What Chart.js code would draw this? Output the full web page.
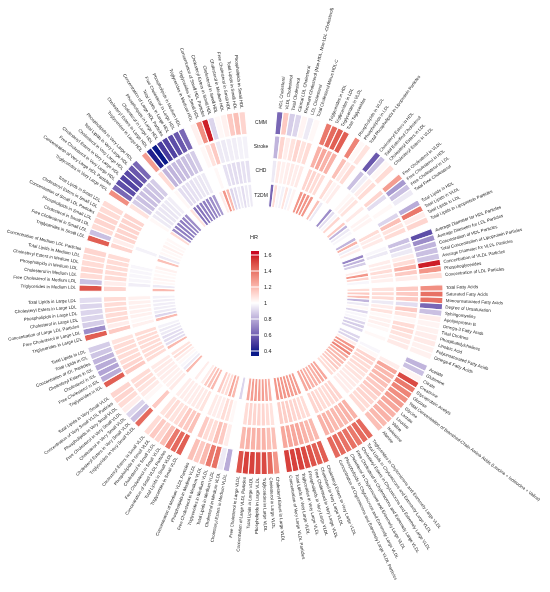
<!DOCTYPE html>
<html>
<head>
<meta charset="utf-8">
<script src="https://cdn.jsdelivr.net/npm/chart.js@4.4.1/dist/chart.umd.min.js"></script>
<style>
  html, body { margin: 0; padding: 0; background: #fff; }
  canvas { display: block; }
</style>
</head>
<body>
<canvas id="circos" width="550" height="592"></canvas>
<script>
// metabolite names in clockwise order, split into groups by groupSizes
const metabolites = [
    'HDL Cholesterol', 'VLDL Cholesterol', 'Total Cholesterol', 'Clinical LDL Cholesterol',
    'Remnant Cholesterol (Non-HDL, Non-LDL -Cholesterol)', 'LDL Cholesterol', 'Total Cholesterol Minus HDL-C',
    'Triglycerides in HDL', 'Triglycerides in LDL', 'Triglycerides in VLDL', 'Total Triglycerides',
    'Phospholipids in VLDL', 'Phospholipids in LDL', 'Total Phospholipids in Lipoprotein Particles',
    'Cholesteryl Esters in HDL', 'Total Esterified Cholesterol', 'Cholesteryl Esters in LDL', 'Cholesteryl Esters in VLDL',
    'Free Cholesterol in VLDL', 'Free Cholesterol in HDL', 'Free Cholesterol in LDL', 'Total Free Cholesterol',
    'Total Lipids in HDL', 'Total Lipids in VLDL', 'Total Lipids in LDL', 'Total Lipids in Lipoprotein Particles',
    'Average Diameter for HDL Particles', 'Average Diameter for LDL Particles', 'Concentration of HDL Particles',
    'Total Concentration of Lipoprotein Particles', 'Average Diameter for VLDL Particles', 'Concentration of VLDL Particles',
    'Phosphoglycerides', 'Concentration of LDL Particles',
    'Total Fatty Acids', 'Saturated Fatty Acids', 'Monounsaturated Fatty Acids', 'Degree of Unsaturation',
    'Sphingomyelins', 'Apolipoprotein B', 'Omega-3 Fatty Acids', 'Total Cholines', 'Phosphatidylcholines',
    'Linoleic Acid', 'Polyunsaturated Fatty Acids', 'Omega-6 Fatty Acids',
    'Acetate', 'Glutamine', 'Citrate', 'Creatinine', 'Glycoprotein Acetyls', 'Glucose',
    'Total Concentration of Branched-Chain Amino Acids (Leucine + Isoleucine + Valine)',
    'Glycine', 'Lactate', 'Leucine', 'Valine', 'Isoleucine', 'Alanine',
    'Triglycerides in Chylomicrons and Extremely Large VLDL', 'Total Lipids in Chylomicrons and Extremely Large VLDL',
    'Cholesteryl Esters in Chylomicrons and Extremely Large VLDL', 'Free Cholesterol in Chylomicrons and Extremely Large VLDL',
    'Cholesterol in Chylomicrons and Extremely Large VLDL', 'Phospholipids in Chylomicrons and Extremely Large VLDL',
    'Concentration of Chylomicrons and Extremely Large VLDL Particles',
    'Cholesteryl Esters in Very Large VLDL', 'Cholesterol in Very Large VLDL', 'Free Cholesterol in Very Large VLDL',
    'Phospholipids in Very Large VLDL', 'Triglycerides in Very Large VLDL', 'Total Lipids in Very Large VLDL',
    'Concentration of Very Large VLDL Particles',
    'Cholesteryl Esters in Large VLDL', 'Cholesterol in Large VLDL', 'Triglycerides in Large VLDL',
    'Phospholipids in Large VLDL', 'Total Lipids in Large VLDL', 'Concentration of Large VLDL Particles',
    'Free Cholesterol in Large VLDL',
    'Cholesteryl Esters in Medium VLDL', 'Cholesterol in Medium VLDL', 'Total Lipids in Medium VLDL',
    'Triglycerides in Medium VLDL', 'Free Cholesterol in Medium VLDL', 'Phospholipids in Medium VLDL',
    'Concentration of Medium VLDL Particles',
    'Triglycerides in Small VLDL', 'Total Lipids in Small VLDL', 'Concentration of Small VLDL Particles',
    'Free Cholesterol in Small VLDL', 'Cholesterol in Small VLDL', 'Phospholipids in Small VLDL',
    'Cholesteryl Esters in Small VLDL',
    'Triglycerides in Very Small VLDL', 'Cholesteryl Esters in Very Small VLDL', 'Cholesterol in Very Small VLDL',
    'Free Cholesterol in Very Small VLDL', 'Phospholipids in Very Small VLDL', 'Concentration of Very Small VLDL Particles',
    'Total Lipids in Very Small VLDL',
    'Triglycerides in IDL', 'Free Cholesterol in IDL', 'Cholesterol in IDL', 'Cholesteryl Esters in IDL',
    'Concentration of IDL Particles', 'Total Lipids in IDL', 'Total Lipids in LDL',
    'Triglycerides in Large LDL', 'Free Cholesterol in Large LDL', 'Concentration of Large LDL Particles',
    'Cholesterol in Large LDL', 'Phospholipids in Large LDL', 'Cholesteryl Esters in Large LDL', 'Total Lipids in Large LDL',
    'Triglycerides in Medium LDL', 'Free Cholesterol in Medium LDL', 'Cholesterol in Medium LDL',
    'Phospholipids in Medium LDL', 'Cholesteryl Esters in Medium LDL', 'Total Lipids in Medium LDL',
    'Concentration of Medium LDL Particles',
    'Triglycerides in Small LDL', 'Free Cholesterol in Small LDL', 'Cholesterol in Small LDL',
    'Phospholipids in Small LDL', 'Concentration of Small LDL Particles', 'Cholesteryl Esters in Small LDL',
    'Total Lipids in Small LDL',
    'Triglycerides in Very Large HDL', 'Concentration of Very Large HDL Particles', 'Free Cholesterol in Very Large HDL',
    'Cholesteryl Esters in Very Large HDL', 'Cholesterol in Very Large HDL', 'Total Lipids in Very Large HDL',
    'Phospholipids in Very Large HDL',
    'Triglycerides in Large HDL', 'Cholesteryl Esters in Large HDL', 'Cholesterol in Large HDL',
    'Phospholipids in Large HDL', 'Concentration of Large HDL Particles', 'Total Lipids in Large HDL',
    'Free Cholesterol in Large HDL', 'Phospholipids in Medium HDL',
    'Triglycerides in Medium HDL', 'Triglycerides in Small HDL', 'Concentration of Small HDL Particles',
    'Cholesteryl Esters in Small HDL', 'Cholesterol in Small HDL', 'Cholesterol in Medium HDL',
    'Free Cholesterol in Small HDL', 'Total Lipids in Small HDL', 'Phospholipids in Small HDL',
];

const groupSizes = [7, 4, 3, 4, 4, 4, 8, 12, 13, 7, 7, 7, 7, 7, 7, 7, 7, 7, 7, 7, 8, 9];

const outcomes = ['CMM', 'Stroke', 'CHD', 'T2DM'];

const hrCMM = [
    0.62, 1.15, 0.88, 0.90, 1.03, 0.95, 1.02,
    1.38, 1.42, 1.45, 1.45,
    1.35, 1.02, 1.08,
    0.58, 0.85, 1.02, 1.10,
    1.28, 0.75, 0.85, 0.95,
    0.80, 1.38, 1.05, 1.12,
    0.55, 0.72, 0.82, 0.85, 0.86, 1.58, 1.30, 1.10,
    1.32, 1.40, 1.40, 0.62, 0.85, 1.05, 1.03, 1.04, 1.05, 1.06, 1.04, 1.04,
    0.82, 0.85, 1.03, 1.50, 1.38, 1.35, 1.32, 1.28, 1.25, 1.22, 1.22, 1.20, 1.18,
    1.42, 1.42, 1.38, 1.40, 1.40, 1.42, 1.42,
    1.45, 1.45, 1.48, 1.50, 1.52, 1.52, 1.52,
    1.30, 1.42, 1.50, 1.50, 1.52, 1.52, 1.48,
    0.80, 0.95, 1.40, 1.38, 1.20, 1.15, 1.18,
    1.45, 1.42, 1.38, 1.18, 1.12, 1.15, 1.10,
    1.42, 0.85, 0.90, 1.05, 1.10, 1.12, 1.12,
    1.45, 0.80, 0.78, 0.80, 0.82, 0.86, 0.88,
    1.45, 0.72, 0.88, 0.90, 0.90, 0.90, 0.92,
    1.48, 0.85, 1.10, 1.12, 1.10, 1.10, 1.12,
    1.45, 0.85, 1.10, 1.12, 1.12, 1.10, 1.10,
    1.32, 0.62, 0.55, 0.52, 0.54, 0.58, 0.62,
    1.28, 0.42, 0.40, 0.50, 0.52, 0.55, 0.58, 0.62,
    1.04, 1.32, 1.58, 0.90, 1.02, 1.04, 1.15, 1.18, 1.12,
];

const hrStroke = [
    0.82, 1.12, 1.05, 1.08, 1.12, 1.08, 1.10,
    1.22, 1.25, 1.22, 1.22,
    1.18, 1.06, 1.10,
    0.85, 0.96, 1.05, 1.10,
    1.12, 0.92, 1.00, 1.02,
    0.90, 1.18, 1.08, 1.10,
    0.85, 0.90, 0.95, 1.05, 1.10, 1.22, 1.15, 1.05,
    1.15, 1.15, 1.15, 0.92, 1.15, 1.08, 1.02, 1.10, 1.10, 1.08, 1.06, 1.06,
    1.00, 1.00, 1.05, 1.25, 1.20, 1.20, 1.18, 1.15, 1.15, 1.12, 1.12, 1.10, 1.10,
    1.22, 1.22, 1.20, 1.20, 1.20, 1.22, 1.22,
    1.20, 1.20, 1.22, 1.25, 1.25, 1.25, 1.25,
    1.18, 1.18, 1.22, 1.22, 1.22, 1.22, 1.20,
    1.00, 1.05, 1.15, 1.18, 1.10, 1.10, 1.15,
    1.18, 1.15, 1.15, 1.10, 1.08, 1.10, 1.08,
    1.15, 1.00, 1.02, 1.06, 1.08, 1.10, 1.10,
    1.15, 1.12, 1.10, 1.10, 1.10, 1.10, 1.08,
    1.15, 1.05, 1.10, 1.10, 1.10, 1.10, 1.10,
    1.12, 1.05, 1.10, 1.10, 1.10, 1.10, 1.10,
    1.12, 1.05, 1.12, 1.12, 1.12, 1.12, 1.12,
    1.08, 0.88, 0.85, 0.85, 0.85, 0.86, 0.88,
    1.10, 0.82, 0.82, 0.84, 0.84, 0.85, 0.86, 0.88,
    1.02, 1.08, 1.15, 0.95, 0.95, 0.96, 0.96, 0.97, 0.97,
];

const hrCHD = [
    0.95, 1.06, 1.04, 1.05, 1.06, 1.05, 1.06,
    1.12, 1.12, 1.10, 1.10,
    1.10, 1.03, 1.05,
    1.00, 1.02, 1.04, 1.08,
    1.06, 1.00, 1.03, 1.03,
    1.00, 1.10, 1.05, 1.06,
    0.98, 0.95, 1.00, 1.05, 1.05, 1.10, 1.06, 1.04,
    1.08, 1.10, 1.10, 0.95, 1.05, 1.08, 1.02, 1.04, 1.04, 1.02, 1.00, 1.02,
    1.00, 0.98, 1.02, 1.12, 1.12, 1.10, 1.10, 1.08, 1.08, 1.06, 1.06, 1.05, 1.05,
    1.12, 1.12, 1.10, 1.10, 1.10, 1.12, 1.12,
    1.10, 1.10, 1.12, 1.12, 1.14, 1.14, 1.14,
    1.08, 1.10, 1.12, 1.12, 1.12, 1.12, 1.10,
    1.00, 1.02, 1.08, 1.10, 1.05, 1.05, 1.06,
    1.08, 1.06, 1.06, 1.05, 1.05, 1.05, 1.05,
    1.06, 1.04, 1.04, 1.05, 1.05, 1.06, 1.06,
    1.10, 1.10, 1.10, 1.10, 1.10, 1.10, 1.10,
    1.04, 1.02, 1.04, 1.04, 1.04, 1.04, 1.04,
    1.00, 0.96, 0.98, 0.98, 0.98, 0.98, 1.00,
    1.00, 0.97, 1.00, 1.00, 1.00, 1.00, 1.00,
    1.02, 0.95, 0.94, 0.94, 0.94, 0.95, 0.96,
    1.02, 0.92, 0.92, 0.93, 0.93, 0.94, 0.94, 0.95,
    1.00, 1.02, 1.00, 0.93, 0.92, 0.92, 0.92, 0.93, 0.93,
];

const hrT2DM = [
    0.62, 1.10, 0.98, 0.97, 1.08, 0.97, 1.03,
    1.30, 1.32, 1.30, 1.30,
    1.18, 0.95, 1.00,
    0.72, 0.92, 0.98, 1.12,
    1.15, 0.82, 0.95, 0.98,
    0.82, 1.22, 0.96, 1.05,
    0.70, 0.82, 0.88, 1.00, 1.05, 1.30, 1.12, 0.98,
    1.10, 1.15, 1.18, 0.82, 0.95, 1.02, 0.90, 0.98, 0.98, 0.90, 0.88, 0.90,
    0.90, 0.90, 1.05, 1.30, 1.30, 1.35, 1.25, 1.20, 1.20, 1.15, 1.15, 1.10, 1.10,
    1.25, 1.25, 1.22, 1.22, 1.22, 1.25, 1.25,
    1.28, 1.28, 1.28, 1.30, 1.30, 1.30, 1.30,
    1.22, 1.25, 1.28, 1.28, 1.28, 1.28, 1.25,
    0.90, 1.00, 1.20, 1.25, 1.10, 1.10, 1.15,
    1.20, 1.18, 1.15, 1.05, 1.00, 1.05, 1.00,
    1.20, 0.95, 0.98, 1.02, 1.05, 1.10, 1.08,
    1.20, 0.92, 0.92, 0.92, 0.95, 0.95, 0.97,
    1.20, 0.90, 0.95, 0.96, 0.96, 0.96, 0.97,
    1.20, 0.95, 1.02, 1.03, 1.02, 1.02, 1.04,
    1.18, 0.95, 1.02, 1.02, 1.04, 1.02, 1.02,
    1.10, 0.72, 0.68, 0.68, 0.68, 0.70, 0.72,
    1.08, 0.65, 0.65, 0.68, 0.68, 0.70, 0.72, 0.75,
    1.05, 1.30, 1.20, 0.90, 0.92, 0.95, 0.92, 0.95, 0.95,
];

const hrTicks = [1.6, 1.4, 1.2, 1, 0.8, 0.6, 0.4];

// colour ramp navy -> white -> red, interpolated in Lab like colorRamp2
const toLin = (c) => { c /= 255; return c <= 0.04045 ? c / 12.92 : Math.pow((c + 0.055) / 1.055, 2.4); };
const fromLin = (c) => {
    const v = c <= 0.0031308 ? 12.92 * c : 1.055 * Math.pow(c, 1 / 2.4) - 0.055;
    return Math.round(Math.max(0, Math.min(1, v)) * 255);
};
const rgbToLab = ([r, g, b]) => {
    r = toLin(r); g = toLin(g); b = toLin(b);
    const f = (t) => (t > 0.008856 ? Math.cbrt(t) : 7.787 * t + 16 / 116);
    const fx = f((0.4124 * r + 0.3576 * g + 0.1805 * b) / 0.95047);
    const fy = f(0.2126 * r + 0.7152 * g + 0.0722 * b);
    const fz = f((0.0193 * r + 0.1192 * g + 0.9505 * b) / 1.08883);
    return [116 * fy - 16, 500 * (fx - fy), 200 * (fy - fz)];
};
const labToRgb = ([L, a, b]) => {
    const fy = (L + 16) / 116, fx = fy + a / 500, fz = fy - b / 200;
    const inv = (t) => (t * t * t > 0.008856 ? t * t * t : (t - 16 / 116) / 7.787);
    const X = inv(fx) * 0.95047, Y = inv(fy), Z = inv(fz) * 1.08883;
    const r = 3.2406 * X - 1.5372 * Y - 0.4986 * Z;
    const g = -0.9689 * X + 1.8758 * Y + 0.0415 * Z;
    const bl = 0.0557 * X - 0.2040 * Y + 1.0570 * Z;
    return [fromLin(r), fromLin(g), fromLin(bl)];
};
const labLow = rgbToLab([10, 26, 138]);
const labMid = rgbToLab([255, 255, 255]);
const labHigh = rgbToLab([202, 8, 34]);

const hrColor = (v) => {
    v = Math.max(0.4, Math.min(1.6, v));
    const [from, to, t] = v < 1 ? [labMid, labLow, (1 - v) / 0.6] : [labMid, labHigh, (v - 1) / 0.6];
    const lab = from.map((c, i) => c + (to[i] - c) * t);
    const [r, g, b] = labToRgb(lab);
    return `rgb(${r}, ${g}, ${b})`;
};

// build the segment list with an empty slot between groups
const slotLabels = [];
const slotIndex = [];
let k = 0;
groupSizes.forEach((size, gi) => {
    if (gi > 0) {
        slotLabels.push('');
        slotIndex.push(-1);
    }
    for (let j = 0; j < size; j++) {
        slotLabels.push(metabolites[k]);
        slotIndex.push(k);
        k++;
    }
});
const slotWidths = slotIndex.map(() => 1);

const ringDataset = (values) => ({
    data: slotWidths,
    backgroundColor: slotIndex.map((i) => (i < 0 ? 'rgba(0,0,0,0)' : hrColor(values[i]))),
    borderColor: '#ffffff',
    borderWidth: slotIndex.map((i) => (i < 0 ? 0 : 1.1)),
    weight: 23,
});
const spacer = () => ({
    data: slotWidths,
    backgroundColor: 'rgba(0,0,0,0)',
    borderWidth: 0,
    weight: 1.4,
});

const labelFont = '4.4px "Liberation Sans", Arial, sans-serif';

const circosText = {
    id: 'circosText',
    afterDatasetsDraw(chart) {
        const ctx = chart.ctx;
        const arcs = chart.getDatasetMeta(0).data;
        ctx.save();
        ctx.font = labelFont;
        ctx.fillStyle = '#222';
        ctx.textBaseline = 'middle';
        arcs.forEach((arc, i) => {
            const text = chart.data.labels[i];
            if (!text) return;
            const { x, y, startAngle, endAngle, outerRadius } = arc.getProps(['x', 'y', 'startAngle', 'endAngle', 'outerRadius'], true);
            const a = (startAngle + endAngle) / 2;
            let na = a % (2 * Math.PI);
            if (na < 0) na += 2 * Math.PI;
            const flip = na > Math.PI / 2 && na < 1.5 * Math.PI;
            ctx.save();
            ctx.translate(x, y);
            ctx.rotate(flip ? a + Math.PI : a);
            ctx.textAlign = flip ? 'right' : 'left';
            ctx.fillText(text, flip ? -(outerRadius + 3) : outerRadius + 3, 0);
            ctx.restore();
        });

        // outcome names in the opening at the top
        ctx.font = '5px "Liberation Sans", Arial, sans-serif';
        ctx.textAlign = 'center';
        outcomes.forEach((name, r) => {
            const arc = chart.getDatasetMeta(r * 2).data[0];
            const { x, y, innerRadius, outerRadius } = arc.getProps(['x', 'y', 'innerRadius', 'outerRadius'], true);
            ctx.fillText(name, x, y - (innerRadius + outerRadius) / 2);
        });

        // HR colour key in the centre
        const keyX = 251, keyW = 8, keyMid = 303, perUnit = 80;
        const top = 251, bottom = 356;
        for (let py = top; py < bottom; py++) {
            ctx.fillStyle = hrColor(1 + (keyMid - (py + 0.5)) / perUnit);
            ctx.fillRect(keyX, py, keyW, 1);
        }
        ctx.fillStyle = '#ffffff';
        hrTicks.forEach((t) => {
            if (t === 1) return;
            const py = keyMid - (t - 1) * perUnit;
            ctx.fillRect(keyX, py - 0.5, keyW, 1);
        });
        ctx.fillStyle = '#222';
        ctx.font = '5.5px "Liberation Sans", Arial, sans-serif';
        ctx.textAlign = 'left';
        hrTicks.forEach((t) => {
            ctx.fillText(String(t), keyX + keyW + 5, keyMid - (t - 1) * perUnit);
        });
        ctx.textAlign = 'center';
        ctx.fillText('HR', keyX + 3, 237);
        ctx.restore();
    },
};

new Chart(document.getElementById('circos').getContext('2d'), {
    type: 'doughnut',
    data: {
        labels: slotLabels,
        datasets: [
            ringDataset(hrCMM), spacer(),
            ringDataset(hrStroke), spacer(),
            ringDataset(hrCHD), spacer(),
            ringDataset(hrT2DM),
        ],
    },
    options: {
        responsive: false,
        animation: false,
        events: [],
        rotation: 5,
        circumference: 350,
        radius: 182,
        cutout: '47.25%',
        layout: {
            padding: { left: 0, top: 0, right: 28, bottom: 6 },
        },
        plugins: {
            legend: { display: false },
            tooltip: { enabled: false },
            title: { display: false },
        },
    },
    plugins: [circosText],
});
</script>
</body>
</html>
